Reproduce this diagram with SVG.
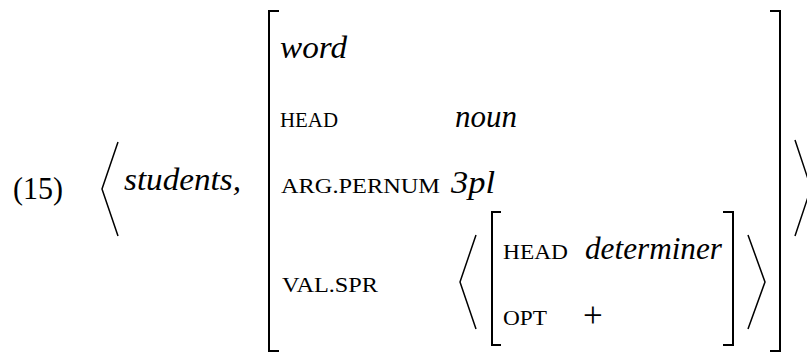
<svg xmlns="http://www.w3.org/2000/svg" width="807" height="354" viewBox="0 0 807 354">
<style>
text{font-family:'Liberation Serif','Times New Roman',serif;fill:#000}
.it{font-style:italic}
.sc{font-size:22px}
.br{fill:none;stroke:#000;stroke-width:2}
.ang{fill:none;stroke:#000;stroke-width:1.5}
</style>
<rect width="807" height="354" fill="#fff"/>
<g id="label">
<text x="13" y="199" font-size="31" textLength="50" lengthAdjust="spacingAndGlyphs">(15)</text>
</g>
<g id="outer-tuple">
<polyline class="ang" points="118,142 102,189 118,236"/>
<text class="it" x="124" y="190" font-size="32" textLength="117" lengthAdjust="spacingAndGlyphs">students,</text>
<polyline class="ang" points="795,140 811,188 795,236"/>
</g>
<g id="avm">
<polyline class="br" points="279,11 269,11 269,351 279,351"/>
<polyline class="br" points="770,11 780,11 780,351 770,351"/>
<text class="it" x="280" y="58" font-size="32" textLength="67" lengthAdjust="spacingAndGlyphs">word</text>
<text class="sc" x="280" y="127" textLength="58" lengthAdjust="spacingAndGlyphs">HEAD</text>
<text class="it" x="455" y="127" font-size="31" textLength="62" lengthAdjust="spacingAndGlyphs">noun</text>
<text class="sc" x="281" y="193" textLength="159" lengthAdjust="spacingAndGlyphs">ARG.PERNUM</text>
<text class="it" x="451" y="193" font-size="31" textLength="44" lengthAdjust="spacingAndGlyphs">3pl</text>
<text class="sc" x="282" y="292" textLength="96" lengthAdjust="spacingAndGlyphs">VAL.SPR</text>
</g>
<g id="spr-list">
<polyline class="ang" points="476,235 460,282 476,329"/>
<polyline class="ang" points="748,235 765,282 748,329"/>
<g id="inner-avm">
<polyline class="br" points="501,212 492,212 492,345 501,345"/>
<polyline class="br" points="723,212 733,212 733,345 723,345"/>
<text class="sc" x="503" y="259" textLength="65" lengthAdjust="spacingAndGlyphs">HEAD</text>
<text class="it" x="585" y="259" font-size="31" textLength="137" lengthAdjust="spacingAndGlyphs">determiner</text>
<text class="sc" x="503" y="325" textLength="44" lengthAdjust="spacingAndGlyphs">OPT</text>
<text x="583" y="327" font-size="35">+</text>
</g>
</g>
</svg>
